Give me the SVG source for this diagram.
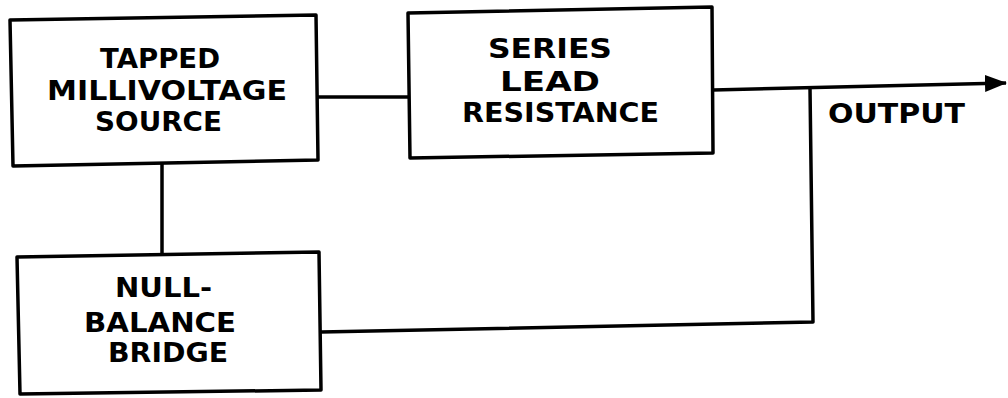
<svg xmlns="http://www.w3.org/2000/svg" width="1008" height="398" viewBox="0 0 1008 398">
<style>
.box{fill:#fff;stroke:#000;stroke-width:3.5;stroke-linejoin:round}
.wire{fill:none;stroke:#000;stroke-width:3.5;stroke-linejoin:round}
.t{font-family:"DejaVu Sans","Liberation Sans",Arial,sans-serif;font-weight:bold;font-size:27px;fill:#000}
</style>
<defs>
<marker id="arr" markerUnits="userSpaceOnUse" markerWidth="24" markerHeight="18" refX="21" refY="8.5" orient="auto">
<path d="M0,0 L22,8.5 L0,17 Z" fill="#000"/>
</marker>
</defs>
<g id="connectors">
<path class="wire" d="M318,97 L408,97"/>
<path class="wire" d="M162,164 L162,254"/>
<path class="wire" d="M713,90 L1006,83" marker-end="url(#arr)"/>
<path class="wire" d="M810,88 L813,322 L321,332"/>
</g>
<g id="tapped-millivoltage-source">
<path class="box" d="M10,20 L316,15 L318,160 L13,166 Z"/>
<text class="t" x="100" y="68" textLength="120" lengthAdjust="spacingAndGlyphs">TAPPED</text>
<text class="t" x="47" y="100" textLength="240" lengthAdjust="spacingAndGlyphs">MILLIVOLTAGE</text>
<text class="t" x="95" y="131" textLength="127" lengthAdjust="spacingAndGlyphs">SOURCE</text>
</g>
<g id="series-lead-resistance">
<path class="box" d="M408,13 L712,7 L713,153 L410,158 Z"/>
<text class="t" x="488" y="58" textLength="124" lengthAdjust="spacingAndGlyphs">SERIES</text>
<text class="t" x="500" y="91" textLength="100" lengthAdjust="spacingAndGlyphs">LEAD</text>
<text class="t" x="462" y="122" textLength="197" lengthAdjust="spacingAndGlyphs">RESISTANCE</text>
</g>
<g id="null-balance-bridge">
<path class="box" d="M17,257 L319,252 L321,390 L20,394 Z"/>
<text class="t" x="115" y="297" textLength="97" lengthAdjust="spacingAndGlyphs">NULL-</text>
<text class="t" x="84" y="332" textLength="152" lengthAdjust="spacingAndGlyphs">BALANCE</text>
<text class="t" x="108" y="362" textLength="120" lengthAdjust="spacingAndGlyphs">BRIDGE</text>
</g>
<g id="output-label">
<text class="t" x="828" y="123" textLength="137" lengthAdjust="spacingAndGlyphs">OUTPUT</text>
</g>
</svg>
